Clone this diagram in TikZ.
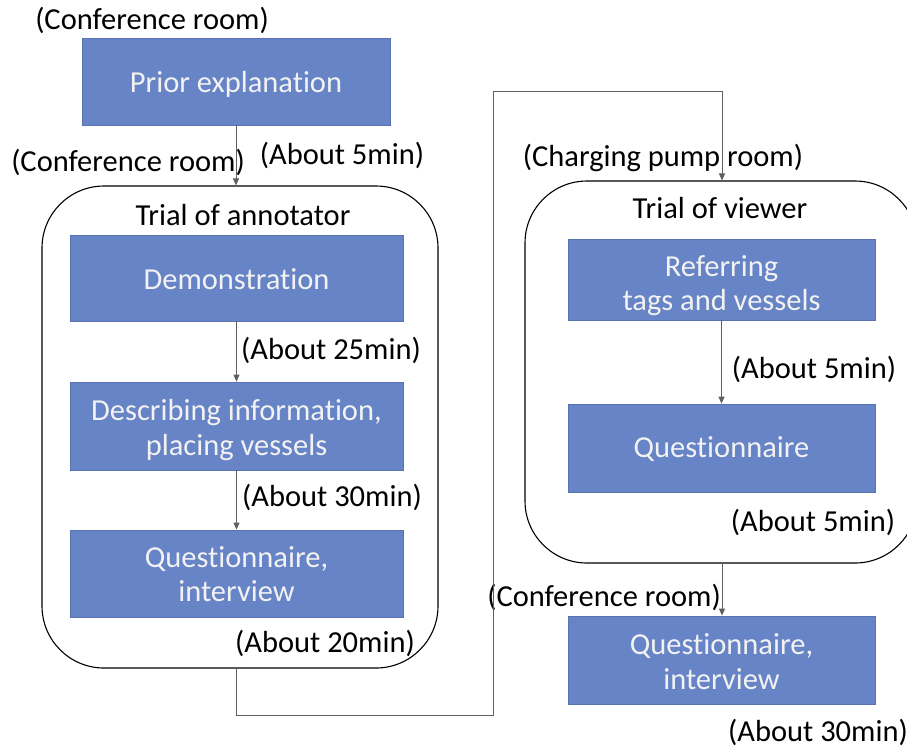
\documentclass[tikz,border=0pt]{standalone}
\usepackage{fontspec}
\setmainfont{Carlito}[Ligatures=NoCommon]
\usetikzlibrary{arrows.meta}
\definecolor{boxblue}{RGB}{103,132,198}
\definecolor{boxedge}{RGB}{88,114,178}
\definecolor{linegray}{RGB}{95,95,95}
\newcommand\shiftdn[2]{\raisebox{-#1}[\height][\depth]{#2}}
\newcommand\twolines[2]{\begin{tabular}{@{}c@{}}#1\\#2\end{tabular}}
\begin{document}
\begin{tikzpicture}[x=1pt,y=-1pt,
  stepbox/.style={draw=boxedge, line width=0.8pt, fill=boxblue, text=white!95!black,
    align=center, inner sep=0pt, font=\fontsize{30.5}{34.5}\selectfont},
  groupbox/.style={draw=black, line width=1.1pt, rounded corners=62pt, inner sep=0pt},
  lbl/.style={text=black, inner sep=0pt, font=\fontsize{30.5}{34}\selectfont},
  conn/.style={draw=linegray, line width=1pt, -{Triangle[length=7pt,width=6pt]}},
]
\clip (0,0) rectangle (907,748);
\fill[white] (0,0) rectangle (907,748);

% group frames
\node[groupbox, minimum width=396pt, minimum height=482pt] (trialA) at (240,427) {};
\node[groupbox, minimum width=392pt, minimum height=382pt] (trialB) at (721,372) {};

% step boxes
\node[stepbox, minimum width=308pt, minimum height=87pt] (prior) at (236,81.5) {\shiftdn{3pt}{Prior explanation}};
\node[stepbox, minimum width=333pt, minimum height=86pt] (demo) at (236.5,278) {\shiftdn{1pt}{Demonstration}};
\node[stepbox, minimum width=333pt, minimum height=88pt] (desc) at (236.5,426) {\shiftdn{5pt}{\twolines{Describing information,}{placing vessels}}};
\node[stepbox, minimum width=333pt, minimum height=87pt] (qi1) at (236.5,573.5) {\shiftdn{4pt}{\twolines{Questionnaire,}{interview}}};
\node[stepbox, minimum width=307pt, minimum height=81pt] (refer) at (721.5,279.5) {\shiftdn{7pt}{\twolines{Referring}{tags and vessels}}};
\node[stepbox, minimum width=307pt, minimum height=88pt] (quest) at (721.5,448) {\shiftdn{1pt}{Questionnaire}};
\node[stepbox, minimum width=307pt, minimum height=88pt] (qi2) at (721.5,660) {\shiftdn{5pt}{\twolines{Questionnaire,}{interview}}};

% labels
\node[lbl] (l1) at (152,20) {(Conference room)};
\node[lbl] (l2) at (128,162) {(Conference room)};
\node[lbl] (l3) at (342,155) {(About 5min)};
\node[lbl] (tA) at (243,215) {Trial of annotator};
\node[lbl] (l4) at (331,350) {(About 25min)};
\node[lbl] (l5) at (332,497) {(About 30min)};
\node[lbl] (l6) at (325,643) {(About 20min)};
\node[lbl] (l7) at (663,158) {(Charging pump room)};
\node[lbl] (tB) at (720,208) {Trial of viewer};
\node[lbl] (l8) at (814,369) {(About 5min)};
\node[lbl] (l9) at (813,522) {(About 5min)};
\node[lbl] (l10) at (604,597) {(Conference room)};
\node[lbl] (l11) at (818,732) {(About 30min)};

% connectors
\coordinate (c2) at (493,715);
\coordinate (c4) at (722,91);
\draw[conn] (prior.south) -- (prior.south |- trialA.north);
\draw[conn] (demo.south) -- (desc.north);
\draw[conn] (desc.south) -- (qi1.north);
\draw[conn] (trialA.south -| prior.south) |- (c2) |- (c4) -- (c4 |- trialB.north);
\draw[conn] (refer.south) -- (quest.north);
\draw[conn] (trialB.south -| c4) -- (c4 |- qi2.north);
\end{tikzpicture}
\end{document}
